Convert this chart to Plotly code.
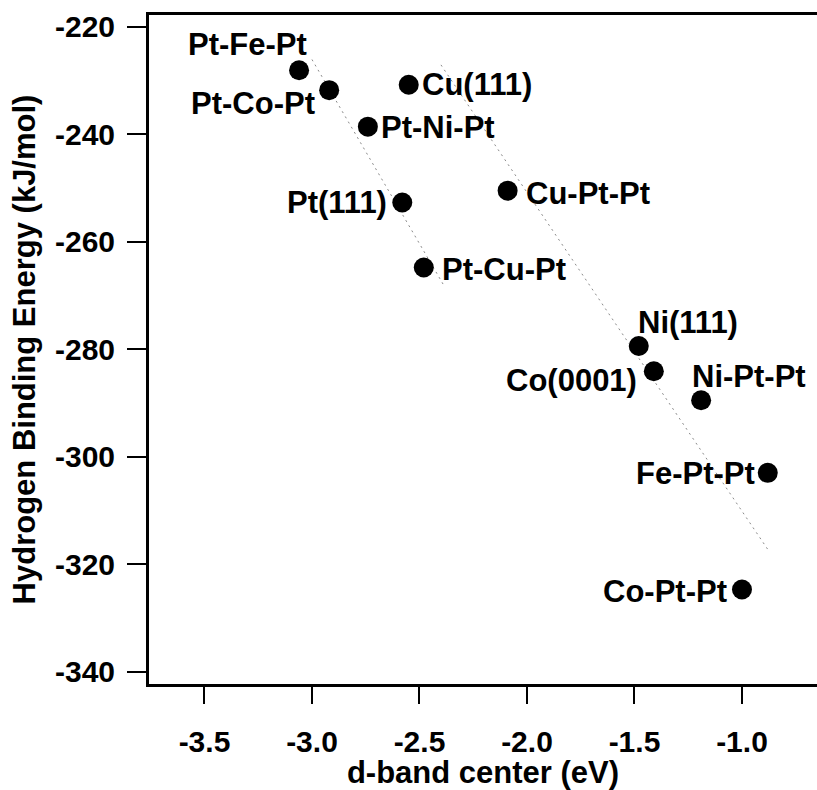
import plotly.graph_objects as go

# d-band centre (eV) and hydrogen binding energy (kJ/mol) for each surface
surfaces = ["Pt-Fe-Pt", "Pt-Co-Pt", "Cu(111)", "Pt-Ni-Pt", "Pt(111)", "Cu-Pt-Pt",
            "Pt-Cu-Pt", "Ni(111)", "Co(0001)", "Ni-Pt-Pt", "Fe-Pt-Pt", "Co-Pt-Pt"]
d_band = [-3.06, -2.92, -2.55, -2.74, -2.58, -2.09,
          -2.48, -1.48, -1.41, -1.19, -0.88, -1.00]
hbe = [-228.1, -231.8, -230.8, -238.6, -252.7, -250.5,
       -264.8, -279.4, -284.1, -289.5, -303.0, -324.7]

# guide lines (two trends)
trend1_x = [-3.00, -2.39]
trend1_y = [-226.1, -267.9]
trend2_x = [-2.40, -0.874]
trend2_y = [-227.1, -317.6]

# axis ticks (labels written with a plain hyphen)
x_ticks = [-3.5, -3.0, -2.5, -2.0, -1.5, -1.0]
x_tick_text = ["-3.5", "-3.0", "-2.5", "-2.0", "-1.5", "-1.0"]
y_ticks = [-340, -320, -300, -280, -260, -240, -220]
y_tick_text = ["-340", "-320", "-300", "-280", "-260", "-240", "-220"]

# label placement: (xanchor, xshift px, yshift px)
label_pos = {
    "Pt-Fe-Pt": ("right", 10, 26),
    "Pt-Co-Pt": ("right", -12, -13),
    "Cu(111)": ("left", 11, 0),
    "Pt-Ni-Pt": ("left", 11, -1),
    "Pt(111)": ("right", -13, 0),
    "Cu-Pt-Pt": ("left", 16, -3),
    "Pt-Cu-Pt": ("left", 16, -2),
    "Ni(111)": ("left", -3, 23),
    "Co(0001)": ("right", -15, -9),
    "Ni-Pt-Pt": ("left", -11, 24),
    "Fe-Pt-Pt": ("right", -11, -1),
    "Co-Pt-Pt": ("right", -13, -2),
}

FONT = "Liberation Sans, Arial, sans-serif"

fig = go.Figure()
dot_style = dict(color="#8a8a8a", width=1, dash="2px,4px")
fig.add_trace(go.Scatter(x=trend1_x, y=trend1_y, mode="lines", line=dot_style,
                         hoverinfo="skip"))
fig.add_trace(go.Scatter(x=trend2_x, y=trend2_y, mode="lines", line=dot_style,
                         hoverinfo="skip"))
fig.add_trace(go.Scatter(x=d_band, y=hbe, mode="markers",
                         marker=dict(color="black", size=20, line=dict(width=0)),
                         text=surfaces, hoverinfo="text"))

for name, x, y in zip(surfaces, d_band, hbe):
    anchor, dx, dy = label_pos[name]
    fig.add_annotation(x=x, y=y, text=name, showarrow=False,
                       xanchor=anchor, yanchor="middle",
                       xshift=dx, yshift=dy,
                       font=dict(family=FONT, size=31, color="black", weight="bold"))

axis_common = dict(
    showline=True, linecolor="black", linewidth=3,
    ticks="outside", tickcolor="black", tickwidth=2,
    showgrid=False, zeroline=False,
    tickfont=dict(family=FONT, size=30, color="black", weight="bold"),
)

fig.update_xaxes(
    **axis_common,
    range=[-3.758, -0.651],
    tickvals=x_ticks,
    ticktext=x_tick_text,
    ticklen=17,
    mirror=True,
    ticklabelstandoff=12,
    title=dict(text="d-band center (eV)", standoff=7,
               font=dict(family=FONT, size=31, color="black", weight="bold")),
)
fig.update_yaxes(
    **axis_common,
    range=[-342.29, -217.82],
    tickvals=y_ticks,
    ticktext=y_tick_text,
    ticklen=19,
    ticklabelstandoff=6,
    title=dict(text="Hydrogen Binding Energy (kJ/mol)", standoff=11,
               font=dict(family=FONT, size=31, color="black", weight="bold")),
)

fig.update_layout(
    width=817, height=790,
    margin=dict(l=149, r=0, t=15, b=106),
    plot_bgcolor="white", paper_bgcolor="white",
    showlegend=False,
    font=dict(family=FONT, color="black"),
)

fig.write_html("out.html")
